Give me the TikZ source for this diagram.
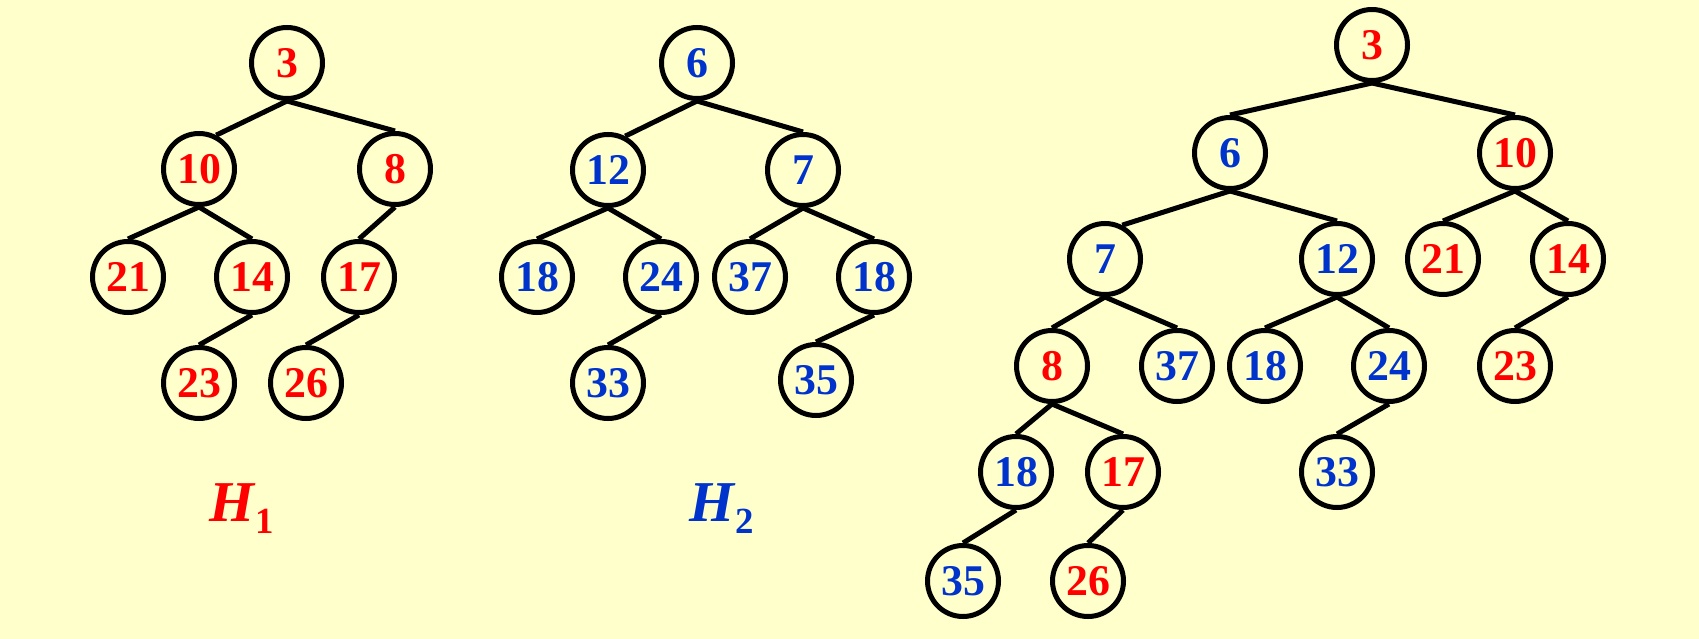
\documentclass[tikz,border=0pt]{standalone}
\usepackage{fontspec}
\setmainfont{Liberation Serif}
\definecolor{bg}{RGB}{255,255,204}
\definecolor{hred}{RGB}{255,0,0}
\definecolor{hblue}{RGB}{0,51,204}
\begin{document}
\begin{tikzpicture}[x=1bp,y=-1bp,
  hn/.style={circle,draw=black,line width=5bp,minimum size=71bp,inner sep=0pt,font=\fontsize{44}{44}\selectfont\bfseries},
  rn/.style={hn,text=hred},
  bn/.style={hn,text=hblue},
  ed/.style={line width=5bp,black},
  lab/.style={anchor=base west,inner sep=0pt,font=\fontsize{58}{58}\selectfont\bfseries}]
\fill[bg] (0,0) rectangle (1699,639);
\useasboundingbox (0,0) rectangle (1699,639);
% H1
\node[rn] (a3) at (287,63) {3};
\node[rn] (a10) at (199,169) {10};
\node[rn] (a8) at (395,169) {8};
\node[rn] (a21) at (128,277) {21};
\node[rn] (a14) at (252,277) {14};
\node[rn] (a17) at (359,277) {17};
\node[rn] (a23) at (199,383) {23};
\node[rn] (a26) at (306,383) {26};
\draw[ed] (a3.south) -- (a10.63);
\draw[ed] (a3.south) -- (a8.north);
\draw[ed] (a10.south) -- (a21.north);
\draw[ed] (a10.south) -- (a14.north);
\draw[ed] (a8.south) -- (a17.north);
\draw[ed] (a14.south) -- (a23.north);
\draw[ed] (a17.south) -- (a26.north);
% H2
\node[bn] (b6) at (697,63) {6};
\node[bn] (b12) at (608,170) {12};
\node[bn] (b7) at (803,170) {7};
\node[bn] (b18) at (537,277) {18};
\node[bn] (b24) at (661,277) {24};
\node[bn] (b37) at (750,277) {37};
\node[bn] (b18b) at (874,277) {18};
\node[bn] (b33) at (608,383) {33};
\node[bn] (b35) at (816,380) {35};
\draw[ed] (b6.south) -- (b12.63);
\draw[ed] (b6.south) -- (b7.north);
\draw[ed] (b12.south) -- (b18.north);
\draw[ed] (b12.south) -- (b24.north);
\draw[ed] (b7.south) -- (b37.north);
\draw[ed] (b7.south) -- (b18b.north);
\draw[ed] (b24.south) -- (b33.north);
\draw[ed] (b18b.south) -- (b35.north);
% merged
\node[rn] (c3) at (1372,45) {3};
\node[bn] (c6) at (1230,153) {6};
\node[rn] (c10) at (1515,153) {10};
\node[bn] (c7) at (1105,259) {7};
\node[bn] (c12) at (1337,259) {12};
\node[rn] (c21) at (1443,259) {21};
\node[rn] (c14) at (1568,259) {14};
\node[rn] (c8) at (1052,366) {8};
\node[bn] (c37) at (1177,366) {37};
\node[bn] (c18) at (1265,366) {18};
\node[bn] (c24) at (1389,366) {24};
\node[rn] (c23) at (1515,366) {23};
\node[bn] (c18b) at (1016,472) {18};
\node[rn] (c17) at (1123,472) {17};
\node[bn] (c33) at (1337,472) {33};
\node[bn] (c35) at (963,581) {35};
\node[rn] (c26) at (1088,581) {26};
\draw[ed] (c3.south) -- (c6.north);
\draw[ed] (c3.south) -- (c10.north);
\draw[ed] (c6.south) -- (c7.63);
\draw[ed] (c6.south) -- (c12.north);
\draw[ed] (c10.south) -- (c21.north);
\draw[ed] (c10.south) -- (c14.north);
\draw[ed] (c7.south) -- (c8.north);
\draw[ed] (c7.south) -- (c37.north);
\draw[ed] (c12.south) -- (c18.north);
\draw[ed] (c12.south) -- (c24.north);
\draw[ed] (c14.south) -- (c23.north);
\draw[ed] (c8.south) -- (c18b.north);
\draw[ed] (c8.south) -- (c17.north);
\draw[ed] (c24.south) -- (c33.north);
\draw[ed] (c18b.south) -- (c35.north);
\draw[ed] (c17.south) -- (c26.north);
% labels
\node[lab,text=hred] (h1) at (209,521) {\textit{H}\raisebox{-12bp}{\fontsize{37}{37}\selectfont 1}};
\node[lab,text=hblue] (h2) at (689,521) {\textit{H}\raisebox{-12bp}{\fontsize{37}{37}\selectfont 2}};
\end{tikzpicture}
\end{document}
